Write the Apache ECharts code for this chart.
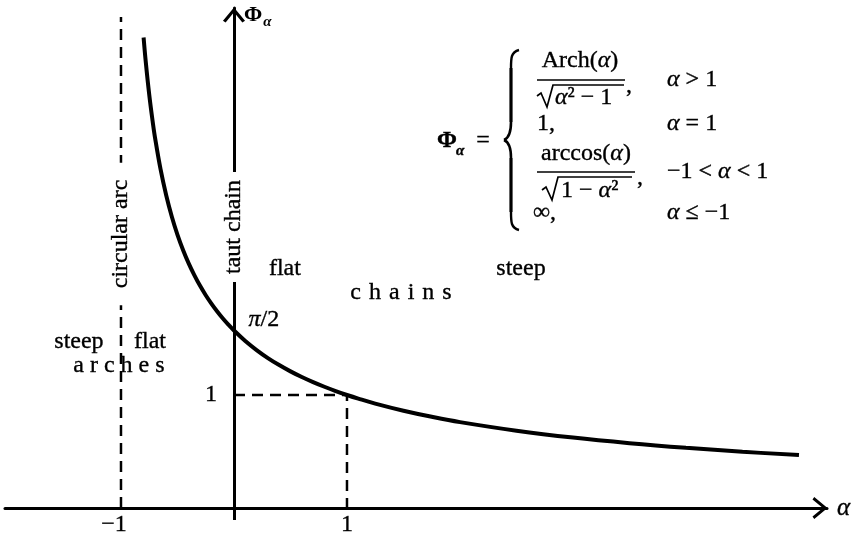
<!DOCTYPE html>
<html>
<head>
<meta charset="utf-8">
<title>Φα</title>
<script src="https://cdn.jsdelivr.net/npm/echarts@6/dist/echarts.min.js"></script>
<style>
  html, body { margin: 0; padding: 0; background: #fff; }
  #chart { width: 851px; height: 534px; }
</style>
</head>
<body>
<div id="chart"></div>
<script>
// Φα as a function of α
const alpha = [-0.8, -0.78, -0.75, -0.72, -0.7, -0.65, -0.6, -0.55, -0.5, -0.45,
  -0.4, -0.35, -0.3, -0.25, -0.2, -0.15, -0.1, -0.05, 0,
  0.1, 0.2, 0.3, 0.4, 0.5, 0.6, 0.7, 0.8, 0.9, 1,
  1.1, 1.25, 1.5, 1.75, 2, 2.5, 3, 3.5, 4, 4.5, 5];
const phi = [4.164, 3.940, 3.657, 3.422, 3.285, 2.998, 2.768, 2.578, 2.418, 2.282,
  2.163, 2.059, 1.966, 1.883, 1.809, 1.741, 1.679, 1.623, 1.571,
  1.478, 1.398, 1.327, 1.265, 1.209, 1.159, 1.114, 1.073, 1.035, 1,
  0.968, 0.924, 0.861, 0.807, 0.760, 0.684, 0.623, 0.574, 0.533, 0.498, 0.468];

// reference lines: the circular-arc limit α = −1 and the guide to (1, 1)
const arcLimit = [[-1, 0], [-1, 4.345]];
const unitGuide = [[0, 1], [1, 1], [1, 0]];

// tick labels
const xTicks = [-1, 1];
const yTicks = [1];

// region notes, anchored in (α, Φα)
const notes = [
  { text: 'flat', at: [0.451, 2.115] },
  { text: 'steep', at: [2.54, 2.115] },
  { text: 'c\u2004h\u2004a\u2004i\u2004n\u2004s', at: [1.478, 1.903] },
  { text: '{i|π}/2', at: [0.265, 1.664] },
  { text: 'steep', at: [-1.372, 1.469] },
  { text: 'flat', at: [-0.743, 1.469] },
  { text: 'a r c h e s', at: [-1.018, 1.257] }
];
// upright notes written along a vertical line, blanking the line behind them
const sideNotes = [
  { text: 'circular arc', at: [-1, 2.425], gap: 17 },
  { text: 'taut chain', at: [0, 2.487], gap: 8 }
];

const SERIF = '"Liberation Serif", "Times New Roman", serif';
const FS = 24;
const chevron = 'path://M0,12 L10,0 L20,12 L17.6,13.6 L10,4.2 L2.4,13.6 Z';
const italic = { i: { fontStyle: 'italic', fontFamily: SERIF, fontSize: FS, fill: '#000' } };

const curve = alpha.map((a, k) => [a, phi[k]]);

// formula block, drawn as text pieces and rules
function t(text, x, y, extra) {
  return {
    type: 'text', x: x, y: y, z: 10,
    style: Object.assign({
      text: text, fill: '#000', stroke: '#000', lineWidth: 0.35,
      align: 'left', verticalAlign: 'middle',
      font: FS + 'px ' + SERIF, rich: italic
    }, extra || {})
  };
}
const ink = w => ({ stroke: '#000', lineWidth: w, fill: null });
function rule(x1, x2, y) {
  return { type: 'line', z: 10, shape: { x1: x1, y1: y, x2: x2, y2: y }, style: ink(1.7) };
}
function poly(points, w) {
  return { type: 'polyline', z: 10, shape: { points: points }, style: Object.assign(ink(w), { lineJoin: 'miter' }) };
}
function curveEl(x1, y1, c1x, c1y, c2x, c2y, x2, y2, w) {
  return { type: 'bezierCurve', z: 10, shape: { x1: x1, y1: y1, cpx1: c1x, cpy1: c1y, cpx2: c2x, cpy2: c2y, x2: x2, y2: y2 }, style: ink(w) };
}

const brace = [
  curveEl(519, 50, 511, 52, 511, 58, 511, 68, 2.4),
  poly([[511, 68], [511, 122]], 3.2),
  curveEl(511, 122, 511, 133, 509, 138, 504, 140, 2.6),
  curveEl(504, 140, 509, 142, 511, 147, 511, 158, 2.6),
  poly([[511, 158], [511, 212]], 3.2),
  curveEl(511, 212, 511, 222, 511, 228, 519, 230, 2.4)
];

const formula = [
  t('Φ', 437, 141, { font: 'bold ' + FS + 'px ' + SERIF }),
  t('α', 456, 151, { font: 'italic bold 15px ' + SERIF }),
  t('=', 483, 141, { align: 'center' }),
  t('Arch({i|α})', 580, 61, { align: 'center' }),
  rule(537, 625, 80),
  poly([[537, 96], [541, 93], [547, 107], [553, 85], [624, 85]], 1.7),
  t('{i|α}² − 1', 555, 98),
  t(',', 626, 86),
  t('{i|α} > 1', 667, 80),
  t('1,', 537, 124),
  t('{i|α} = 1', 667, 124),
  t('arccos({i|α})', 586, 154, { align: 'center' }),
  rule(537, 635, 172),
  poly([[542, 190], [546, 187], [552, 200], [558, 177], [632, 177]], 1.7),
  t('1 − {i|α}²', 561, 191),
  t(',', 637, 178),
  t('−1 < {i|α} < 1', 667, 172),
  t('∞,', 533, 213),
  t('{i|α} ≤ −1', 667, 213)
].concat(brace);

const chart = echarts.init(document.getElementById('chart'), null, { renderer: 'canvas' });
chart.setOption({
  animation: false,
  backgroundColor: '#fff',
  textStyle: { fontFamily: SERIF, color: '#000' },
  grid: { left: 5, right: 24, top: 8, bottom: 26, containLabel: false, outerBoundsMode: 'none' },
  xAxis: {
    type: 'value', min: -2.0265, max: 5.248,
    splitLine: { show: false },
    axisLine: {
      onZero: true,
      lineStyle: { color: '#000', width: 3 },
      symbol: ['none', chevron], symbolSize: [24, 15], symbolOffset: [0, -7]
    },
    axisTick: { show: true, customValues: [0], length: 12, inside: false, lineStyle: { color: '#000', width: 3 } },
    axisLabel: {
      customValues: xTicks, margin: 5,
      fontFamily: SERIF, fontSize: FS, color: '#000',
      textBorderColor: '#000', textBorderWidth: 0.35,
      formatter: v => v < 0 ? '{m|−' + Math.abs(v) + '}' : String(v),
      rich: { m: { fontFamily: SERIF, fontSize: FS, color: '#000', textBorderColor: '#000', textBorderWidth: 0.35, padding: [0, 14, 0, 0] } }
    },
    name: 'α', nameLocation: 'end', nameGap: 10,
    nameTextStyle: { fontFamily: SERIF, fontStyle: 'italic', fontSize: 25, color: '#000', textBorderColor: '#000', textBorderWidth: 0.35 }
  },
  yAxis: {
    type: 'value', min: 0, max: 4.425,
    splitLine: { show: false },
    axisLine: {
      onZero: true,
      lineStyle: { color: '#000', width: 3 },
      symbol: ['none', chevron], symbolSize: [24, 15], symbolOffset: [0, -7]
    },
    axisTick: { show: false },
    axisLabel: { show: false },
    name: '{p|Φ}{s|α}', nameLocation: 'end', nameGap: 0,
    nameTextStyle: {
      align: 'left', verticalAlign: 'top', padding: [-4, 0, 0, 10],
      rich: {
        p: { fontFamily: SERIF, fontWeight: 'bold', fontSize: 22, color: '#000', lineHeight: 26, verticalAlign: 'top' },
        s: { fontFamily: SERIF, fontWeight: 'bold', fontStyle: 'italic', fontSize: 15, color: '#000', lineHeight: 26, verticalAlign: 'bottom', padding: [10, 0, 0, 1] }
      }
    }
  },
  series: [
    {
      name: 'Φα', type: 'line', data: curve, showSymbol: false, symbol: 'none',
      smooth: 0.4,
      lineStyle: { color: '#000', width: 4 }, z: 3
    },
    {
      name: 'circular arc', type: 'line', data: arcLimit, symbol: 'none',
      lineStyle: { color: '#000', width: 2.5, type: [11, 7] }, z: 2
    },
    {
      name: 'unit guide', type: 'line', data: unitGuide, symbol: 'none',
      lineStyle: { color: '#000', width: 2.5, type: [11, 7] }, z: 2
    }
  ],
  graphic: formula
});

// notes and the y tick label, placed through the grid's own coordinate mapping
const toPx = p => chart.convertToPixel({ gridIndex: 0 }, p);
const noteEls = notes.map(n => {
  const p = toPx(n.at);
  return t(n.text, p[0], p[1], { align: 'center' });
});
const sideEls = sideNotes.map(n => {
  const p = toPx(n.at);
  const el = t(n.text, p[0], p[1], { align: 'center', backgroundColor: '#fff', padding: [0, n.gap] });
  el.rotation = Math.PI / 2;
  return el;
});
const yTickEls = yTicks.map(v => {
  const p = toPx([0, v]);
  return t(String(v), p[0] - 17, p[1], { align: 'right' });
});
chart.setOption({ graphic: formula.concat(noteEls, sideEls, yTickEls) });
</script>
</body>
</html>
